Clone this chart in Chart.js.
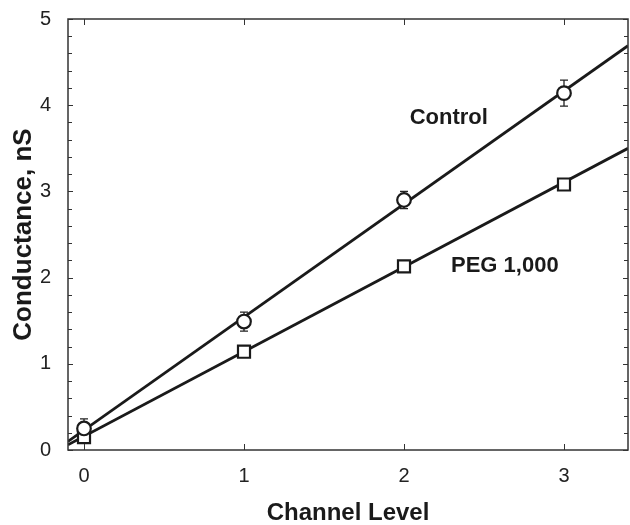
<!DOCTYPE html>
<html>
<head>
<meta charset="utf-8">
<script src="https://cdn.jsdelivr.net/npm/chart.js@4/dist/chart.umd.min.js"></script>
<style>
  html, body { margin: 0; padding: 0; background: #fff; }
  #wrap { width: 630px; height: 525px; }
</style>
</head>
<body>
<div id="wrap"><canvas id="chart" width="630" height="525"></canvas></div>
<script>
const channelLevels = [0, 1, 2, 3];
const controlMean = [0.25, 1.49, 2.90, 4.14];
const controlErr = [0.11, 0.11, 0.10, 0.15];
const pegMean = [0.15, 1.14, 2.13, 3.08];
const fitRange = [-0.1, 3.4];
const controlFit = [0.10, 4.69];
const pegFit = [0.06, 3.50];
const labelText = ["Control", "PEG 1,000"];
const labelX = [2.28, 2.63];
const labelY = [3.85, 2.13];

const ink = "#1a1a1a";
const fontFamily = "'Liberation Sans', Arial, sans-serif";
const toPoints = (xs, ys) => xs.map((x, i) => ({ x, y: ys[i] }));

// frame, inward ticks, error bars and text labels
const extras = {
  id: "extras",
  beforeDatasetsDraw(chart) {
    const { ctx, scales: { x, y } } = chart;
    ctx.save();
    ctx.strokeStyle = "#222";
    ctx.lineWidth = 1.3;
    channelLevels.forEach((lvl, i) => {
      const px = x.getPixelForValue(lvl);
      const top = y.getPixelForValue(controlMean[i] + controlErr[i]);
      const bot = y.getPixelForValue(controlMean[i] - controlErr[i]);
      ctx.beginPath();
      ctx.moveTo(px, top); ctx.lineTo(px, bot);
      ctx.moveTo(px - 4, top); ctx.lineTo(px + 4, top);
      ctx.moveTo(px - 4, bot); ctx.lineTo(px + 4, bot);
      ctx.stroke();
    });
    ctx.restore();
  },
  afterDraw(chart) {
    const { ctx, chartArea: a, scales: { x, y } } = chart;
    ctx.save();
    ctx.strokeStyle = "#333";
    ctx.lineWidth = 1.5;
    ctx.strokeRect(a.left, a.top, a.right - a.left, a.bottom - a.top);
    ctx.lineWidth = 1;
    ctx.beginPath();
    y.ticks.forEach((t) => {
      const py = Math.round(y.getPixelForValue(t.value)) + 0.5;
      const len = Number.isInteger(Math.round(t.value * 1000) / 1000) ? 5 : 4;
      ctx.moveTo(a.left, py); ctx.lineTo(a.left + len, py);
      ctx.moveTo(a.right, py); ctx.lineTo(a.right - len, py);
    });
    channelLevels.forEach((lvl) => {
      const px = Math.round(x.getPixelForValue(lvl)) + 0.5;
      ctx.moveTo(px, a.bottom); ctx.lineTo(px, a.bottom - 6);
      ctx.moveTo(px, a.top); ctx.lineTo(px, a.top + 6);
    });
    ctx.stroke();

    ctx.fillStyle = ink;
    ctx.font = "bold 22px " + fontFamily;
    ctx.textAlign = "center";
    ctx.textBaseline = "middle";
    labelText.forEach((t, i) => {
      ctx.fillText(t, x.getPixelForValue(labelX[i]), y.getPixelForValue(labelY[i]));
    });
    ctx.restore();
  },
};

new Chart(document.getElementById("chart"), {
  type: "scatter",
  data: {
    datasets: [
      {
        label: "Control",
        data: toPoints(channelLevels, controlMean),
        pointStyle: "circle",
        pointRadius: 6.8,
        pointBorderWidth: 2.2,
        pointBackgroundColor: "#fff",
        pointBorderColor: ink,
        showLine: false,
        order: 0,
      },
      {
        label: "PEG 1,000",
        data: toPoints(channelLevels, pegMean),
        pointStyle: "rect",
        pointRadius: 8.5,
        pointBorderWidth: 2.2,
        pointBackgroundColor: "#fff",
        pointBorderColor: ink,
        showLine: false,
        order: 0,
      },
      {
        label: "Control fit",
        data: toPoints(fitRange, controlFit),
        showLine: true,
        borderColor: ink,
        borderWidth: 2.8,
        pointRadius: 0,
        order: 1,
      },
      {
        label: "PEG fit",
        data: toPoints(fitRange, pegFit),
        showLine: true,
        borderColor: ink,
        borderWidth: 2.8,
        pointRadius: 0,
        order: 1,
      },
    ],
  },
  options: {
    responsive: false,
    animation: false,
    layout: { autoPadding: false, padding: { top: 19, right: 2, left: 0, bottom: 0 } },
    plugins: { legend: { display: false }, tooltip: { enabled: false } },
    scales: {
      x: {
        type: "linear",
        min: -0.1,
        max: 3.4,
        afterFit: (s) => { s.height = 75; s.paddingLeft = 0; s.paddingRight = 0; },
        grid: { display: false },
        border: { display: false },
        ticks: {
          stepSize: 1,
          includeBounds: false,
          autoSkip: false,
          maxRotation: 0,
          padding: 6,
          color: "#222",
          font: { family: fontFamily, size: 20 },
          callback: (v) => (Number.isInteger(v) ? v : ""),
        },
        title: {
          display: true,
          text: "Channel Level",
          color: ink,
          padding: { top: 0, bottom: 0 },
          font: { family: fontFamily, size: 24, weight: "bold", lineHeight: 1 },
        },
      },
      y: {
        min: 0,
        max: 5,
        afterFit: (s) => { s.width = 68; s.paddingTop = 0; s.paddingBottom = 0; },
        grid: { display: false },
        border: { display: false },
        ticks: {
          stepSize: 0.2,
          includeBounds: false,
          autoSkip: false,
          padding: 9,
          color: "#222",
          font: { family: fontFamily, size: 20 },
          callback: (v) => {
            const r = Math.round(v * 1000) / 1000;
            return Number.isInteger(r) ? r : "";
          },
        },
        title: {
          display: true,
          text: "Conductance, nS",
          color: ink,
          padding: { top: 8, bottom: 0 },
          font: { family: fontFamily, size: 26, weight: "bold" },
        },
      },
    },
  },
  plugins: [extras],
});
</script>
</body>
</html>
